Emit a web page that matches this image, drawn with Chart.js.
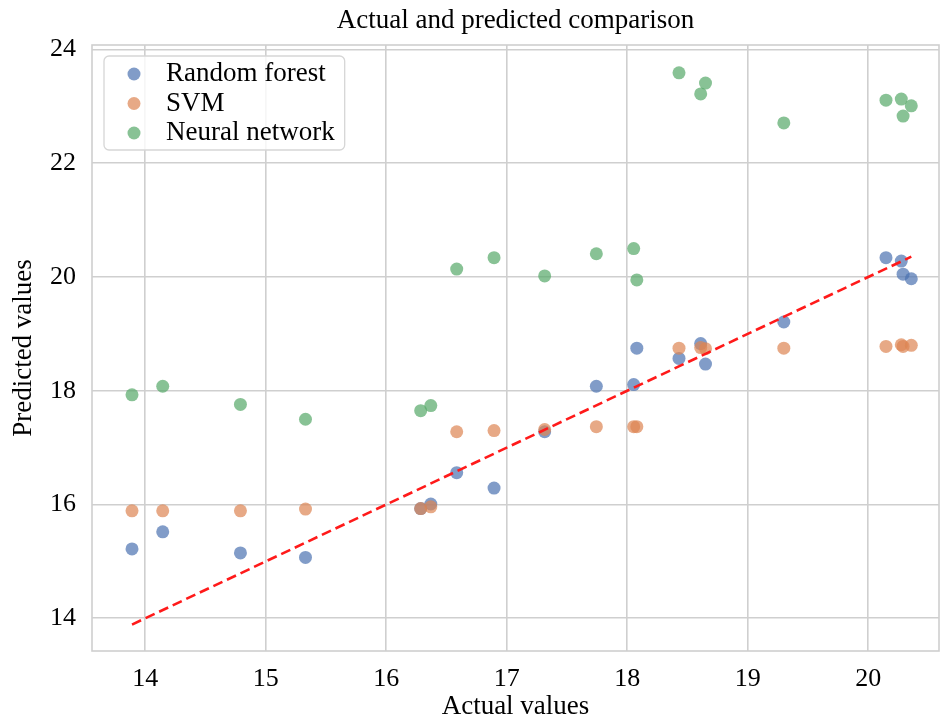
<!DOCTYPE html>
<html>
<head>
<meta charset="utf-8">
<script src="https://cdn.jsdelivr.net/npm/chart.js@4.4.1/dist/chart.umd.min.js"></script>
<style>
  html, body { margin: 0; padding: 0; background: #ffffff; }
  #chart { display: block; }
</style>
</head>
<body>
<canvas id="chart" width="941" height="722"></canvas>
<script>
// Measured (actual) values shared by all three models
const actualValues = [13.89, 14.145, 14.79, 15.33, 16.286, 16.37, 16.585, 16.895, 17.315, 17.744,
                      18.054, 18.08, 18.43, 18.61, 18.65, 19.30, 20.148, 20.275, 20.29, 20.358];

// Model predictions, one entry per actual value
const randomForestPred = [15.22, 15.52, 15.15, 15.07, 15.93, 16.01, 16.56, 16.29, 17.28, 18.08,
                          18.11, 18.75, 18.57, 18.83, 18.47, 19.21, 20.34, 20.28, 20.05, 19.97];
const svmPred = [15.89, 15.89, 15.89, 15.92, 15.93, 15.96, 17.28, 17.30, 17.32, 17.37,
                 17.37, 17.37, 18.75, 18.76, 18.74, 18.75, 18.78, 18.81, 18.78, 18.80];
const neuralNetPred = [17.93, 18.08, 17.76, 17.50, 17.65, 17.74, 20.14, 20.34, 20.02, 20.41,
                       20.50, 19.95, 23.59, 23.22, 23.41, 22.71, 23.11, 23.13, 22.83, 23.01];

const seriesNames = ['Random forest', 'SVM', 'Neural network'];
const xTickValues = [14, 15, 16, 17, 18, 19, 20];
const yTickValues = [14, 16, 18, 20, 22, 24];

const SERIF = '"Liberation Serif", "Times New Roman", Times, serif';
const colors = ['rgba(76,114,176,0.7)', 'rgba(221,132,82,0.7)', 'rgba(85,168,104,0.7)'];
const GRID = '#cfcfcf';

function pairs(xs, ys) { return xs.map((x, i) => ({ x: x, y: ys[i] })); }

const lo = Math.min(...actualValues);
const hi = Math.max(...actualValues);
const identityLine = [{ x: lo, y: lo }, { x: hi, y: hi }];

// Frame around the plotting area
const frame = {
  id: 'frame',
  beforeDatasetsDraw(chart) {
    const { ctx, chartArea: a } = chart;
    ctx.save();
    ctx.strokeStyle = GRID;
    ctx.lineWidth = 1.6;
    ctx.strokeRect(a.left, a.top, a.right - a.left, a.bottom - a.top);
    ctx.restore();
  }
};

// Boxed legend in the upper-left corner of the plotting area
const boxLegend = {
  id: 'boxLegend',
  afterDraw(chart) {
    const { ctx, chartArea: a } = chart;
    const sets = chart.data.datasets.filter(d => d.type === 'scatter');
    ctx.save();
    ctx.font = '27px ' + SERIF;
    const textW = Math.max(...sets.map(d => ctx.measureText(d.label).width));
    const x0 = a.left + 12, y0 = a.top + 11;
    const rowH = 29.5;
    const w = 62 + textW + 10;
    const h = 18 + rowH * (sets.length - 1) + 17;
    ctx.beginPath();
    ctx.roundRect(x0, y0, w, h, 5);
    ctx.fillStyle = 'rgba(255,255,255,0.8)';
    ctx.fill();
    ctx.strokeStyle = '#d6d6d6';
    ctx.lineWidth = 1.3;
    ctx.stroke();
    sets.forEach((d, i) => {
      const cy = y0 + 18 + rowH * i;
      ctx.beginPath();
      ctx.arc(x0 + 30, cy, 6.5, 0, Math.PI * 2);
      ctx.fillStyle = d.backgroundColor;
      ctx.fill();
      ctx.fillStyle = '#000';
      ctx.textBaseline = 'middle';
      ctx.textAlign = 'left';
      ctx.fillText(d.label, x0 + 62, cy);
    });
    ctx.restore();
  }
};

const scatterSets = [randomForestPred, svmPred, neuralNetPred].map((ys, i) => ({
  type: 'scatter',
  label: seriesNames[i],
  data: pairs(actualValues, ys),
  backgroundColor: colors[i],
  borderWidth: 0,
  pointRadius: 6.5,
  pointHoverRadius: 6.5,
  order: 3 - i
}));

new Chart(document.getElementById('chart'), {
  data: {
    datasets: [
      ...scatterSets,
      {
        type: 'line',
        label: 'y = x',
        data: identityLine,
        borderColor: '#ff1a1a',
        borderWidth: 2.6,
        borderDash: [10, 5],
        pointRadius: 0,
        fill: false,
        order: 0
      }
    ]
  },
  options: {
    responsive: false,
    animation: false,
    layout: { autoPadding: false, padding: { left: 0, right: 2, top: 0, bottom: 0 } },
    plugins: {
      legend: { display: false },
      tooltip: { enabled: false },
      title: {
        display: true,
        text: 'Actual and predicted comparison',
        fullSize: false,
        color: '#000',
        font: { family: SERIF, size: 27, weight: 'normal', lineHeight: 1.2 },
        padding: { top: 5, bottom: 7.6 }
      }
    },
    scales: {
      x: {
        type: 'linear',
        min: 13.558,
        max: 20.588,
        afterBuildTicks(scale) { scale.ticks = xTickValues.map(v => ({ value: v })); },
        afterFit(scale) {
          scale.height = 71;
          scale.paddingLeft = 0;
          scale.paddingRight = 0;
        },
        grid: { color: GRID, lineWidth: 1.6, drawTicks: false },
        border: { display: false },
        ticks: { color: '#000', padding: 13, font: { family: SERIF, size: 26 } },
        title: {
          display: true, text: 'Actual values', color: '#000',
          font: { family: SERIF, size: 27, lineHeight: 1.1 },
          padding: { top: 0, bottom: 0 }
        }
      },
      y: {
        type: 'linear',
        min: 13.425,
        max: 24.08,
        afterBuildTicks(scale) { scale.ticks = yTickValues.map(v => ({ value: v })); },
        afterFit(scale) {
          scale.width = 92;
          scale.paddingTop = 0;
          scale.paddingBottom = 0;
        },
        grid: { color: GRID, lineWidth: 1.6, drawTicks: false },
        border: { display: false },
        ticks: { color: '#000', padding: 16, font: { family: SERIF, size: 26 } },
        title: {
          display: true, text: 'Predicted values', color: '#000',
          font: { family: SERIF, size: 27, lineHeight: 1.2 },
          padding: { top: 8, bottom: 0 }
        }
      }
    }
  },
  plugins: [frame, boxLegend]
});
</script>
</body>
</html>
